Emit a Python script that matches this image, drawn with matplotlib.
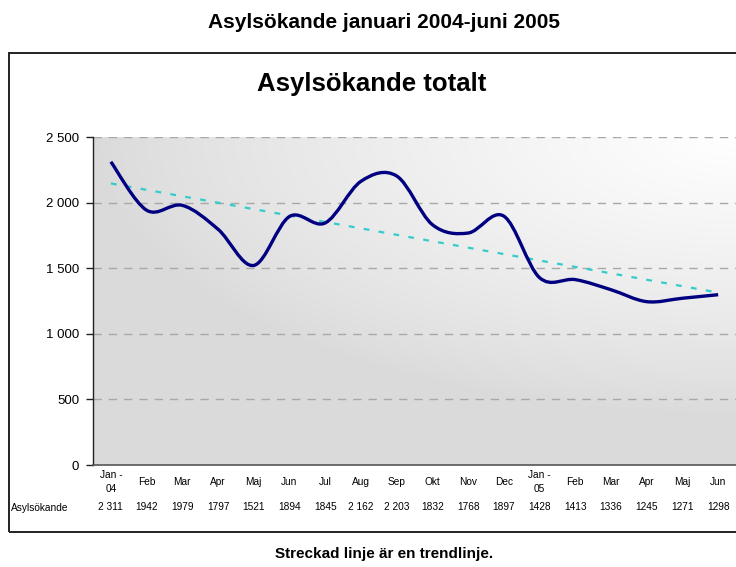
import numpy as np
import matplotlib
matplotlib.use("Agg")
import matplotlib.pyplot as plt
from matplotlib.patches import Rectangle
from matplotlib.path import Path
from matplotlib.patches import PathPatch

plt.rcParams['font.family'] = ['Liberation Sans', 'DejaVu Sans']

categories = ["Jan -\n04", "Feb", "Mar", "Apr", "Maj", "Jun", "Jul", "Aug", "Sep",
              "Okt", "Nov", "Dec", "Jan -\n05", "Feb", "Mar", "Apr", "Maj", "Jun"]
values = [2311, 1942, 1979, 1797, 1521, 1894, 1845, 2162, 2203,
          1832, 1768, 1897, 1428, 1413, 1336, 1245, 1271, 1298]
table_labels = ["2 311", "1942", "1979", "1797", "1521", "1894", "1845", "2 162", "2 203",
                "1832", "1768", "1897", "1428", "1413", "1336", "1245", "1271", "1298"]
series_name = "Asylsökande"
yticks = [0, 500, 1000, 1500, 2000, 2500]
ytick_labels = ["0", "500", "1 000", "1 500", "2 000", "2 500"]

W, H = 736, 567
fig = plt.figure(figsize=(W / 100, H / 100), dpi=100)

# outer chart box
fig.patches.append(Rectangle((9 / W, 1 - 532 / H), 740 / W, (532 - 53) / H,
                             transform=fig.transFigure, fill=False,
                             edgecolor='#222222', linewidth=1.4))

ax = fig.add_axes([93 / W, 1 - 465 / H, 643 / W, 328 / H])
n = len(values)
x = np.arange(n)
ax.set_xlim(-0.5, n - 0.5)
ax.set_ylim(0, 2500)

# gradient background (white toward top-right)
gx, gy = np.meshgrid(np.linspace(0, 1, 300), np.linspace(0, 1, 200))
d = np.sqrt(((1 - gx) / 1.0) ** 2 + ((1 - gy) / 0.85) ** 2)
g = 0.855 + 0.145 * np.clip(1 - d, 0, 1) ** 0.8
img = np.dstack([g, g, g])
ax.imshow(img, extent=[0, 1, 0, 1], transform=ax.transAxes, origin='lower',
          aspect='auto', zorder=0, interpolation='bilinear')

# gridlines
for yv in yticks[1:]:
    ax.axhline(yv, color='#a8a8a8', linestyle=(0, (6, 5)), linewidth=1.0, zorder=1)

# smoothed line (Catmull-Rom style bezier like Excel)
xs = x.astype(float)
ys = np.array(values, dtype=float)
verts = [(xs[0], ys[0])]
codes = [Path.MOVETO]
for i in range(n - 1):
    p0 = np.array([xs[max(i - 1, 0)], ys[max(i - 1, 0)]])
    p1 = np.array([xs[i], ys[i]])
    p2 = np.array([xs[i + 1], ys[i + 1]])
    p3 = np.array([xs[min(i + 2, n - 1)], ys[min(i + 2, n - 1)]])
    c1 = p1 + (p2 - p0) / 6.0
    c2 = p2 - (p3 - p1) / 6.0
    verts += [tuple(c1), tuple(c2), tuple(p2)]
    codes += [Path.CURVE4] * 3
ax.add_patch(PathPatch(Path(verts, codes), facecolor='none', edgecolor='#000080',
                       linewidth=2.4, capstyle='butt', joinstyle='round', zorder=4))

# linear trendline
k, m = np.polyfit(x, values, 1)
ax.plot(x, k * x + m, color='#33CCCC', linewidth=1.6, linestyle=(0, (2.6, 4.2)), zorder=3)

# axes styling
for s in ['top', 'right']:
    ax.spines[s].set_visible(False)
ax.spines['left'].set_color('#222222')
ax.spines['left'].set_linewidth(1.0)
ax.spines['bottom'].set_color('#555555')
ax.spines['bottom'].set_linewidth(1.2)
ax.set_yticks(yticks)
ax.set_yticklabels(ytick_labels, fontsize=9.5)
ax.tick_params(axis='y', length=5, width=1.0, color='#222222', pad=5)
ax.set_xticks([])

xt = ax.get_xaxis_transform()
for xi, lab in zip(x, categories):
    ax.text(xi, -17 / 328, lab, transform=xt, ha='center', va='center',
            fontsize=7.3, linespacing=1.6, clip_on=False)
for xi, lab in zip(x, table_labels):
    ax.text(xi, -42 / 328, lab, transform=xt, ha='center', va='center',
            fontsize=7.3, clip_on=False)
fig.text(11 / W, 1 - 508 / H, series_name, ha='left', va='center', fontsize=7.3)

fig.text(384 / W, 1 - 22 / H, "Asylsökande januari 2004-juni 2005", ha='center',
         va='center', fontsize=15, fontweight='bold')
fig.text(372 / W, 1 - 84 / H, "Asylsökande totalt", ha='center', va='center',
         fontsize=18.5, fontweight='bold')
fig.text(384 / W, 1 - 554 / H, "Streckad linje är en trendlinje.", ha='center',
         va='center', fontsize=11, fontweight='bold')

fig.savefig("out.png", dpi=100)
